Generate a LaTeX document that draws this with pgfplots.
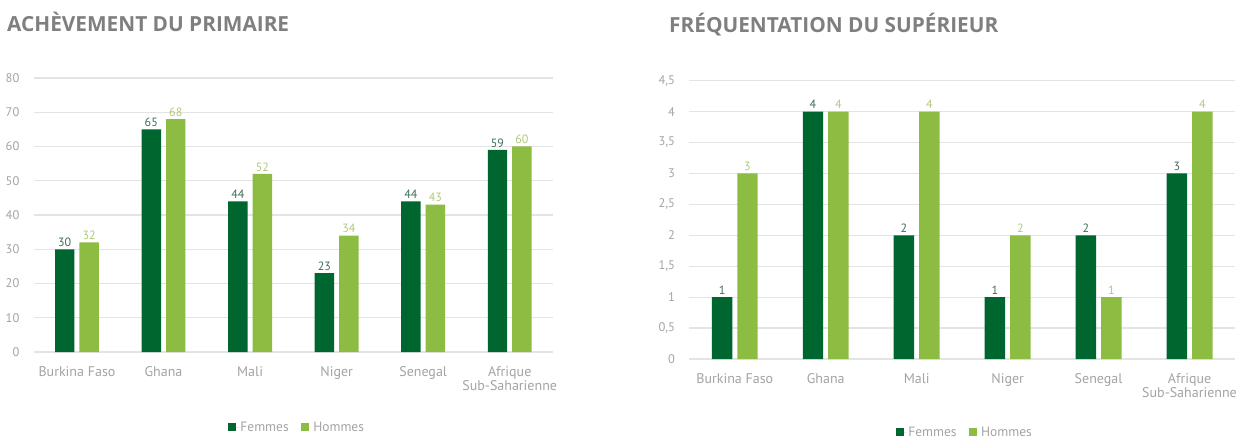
\documentclass[border=0pt]{standalone}
\usepackage{fontspec}
\setmainfont{PT Sans}
\newfontfamily\titlefont{Open Sans}
\usepackage{pgfplots}
\pgfplotsset{compat=1.18}

\definecolor{femmes}{HTML}{00662F}
\definecolor{hommes}{HTML}{8DBC43}
\definecolor{femlab}{HTML}{3E6B58}
\definecolor{homlab}{HTML}{B0C878}
\definecolor{tickgray}{HTML}{A3A3A3}
\definecolor{gridgray}{HTML}{E4E4E4}
\definecolor{titlegray}{HTML}{7F7F7F}

\pgfplotsset{
  barchart/.style={
    scale only axis,
    ybar=5pt, bar width=0.225,
    xmin=-0.5, xmax=5.5,
    xtick={0,...,5},
    xticklabels={Burkina Faso, Ghana, Mali, Niger, Senegal, {Afrique\\Sub-Saharienne}},
    xticklabel style={align=center, font=\fontsize{14}{14.5}\selectfont, text=tickgray, anchor=north, inner sep=0pt, yshift=-12pt},
    yticklabel style={font=\fontsize{12.5}{13}\selectfont, text=tickgray, anchor=east, inner sep=0pt, xshift=-12pt},
    /pgf/number format/assume math mode=true,
    /pgf/number format/use comma,
    axis x line=bottom, axis y line=left,
    axis line style={draw=none},
    tick style={draw=none},
    ymajorgrids,
    grid style={gridgray, line width=1.2pt},
    nodes near coords,
    nodes near coords style={font=\fontsize{12}{12.5}\selectfont, inner sep=2.5pt},
    legend columns=2,
    legend style={draw=none, fill=none, font=\fontsize{13.5}{14}\selectfont, text=tickgray,
      /tikz/every even column/.append style={column sep=10pt}},
  },
  sqlegend/.style={legend image code/.code={\fill[##1] (0pt,-4pt) rectangle (8pt,4pt); \path (0pt,0pt) -- (10.5pt,0pt);}},
  fem/.style={fill=femmes, draw=none, sqlegend,
    every node near coord/.append style={text=femlab}},
  hom/.style={fill=hommes, draw=none, sqlegend,
    every node near coord/.append style={text=homlab}},
}

\begin{document}
\begin{tikzpicture}
\useasboundingbox (0pt,0pt) rectangle (1236pt,442pt);

\node[anchor=base west, inner sep=0pt, text=titlegray, font=\titlefont\bfseries\fontsize{20.8}{21}\selectfont]
  at (7pt,410.3pt) {ACHÈVEMENT DU PRIMAIRE};
\node[anchor=base west, inner sep=0pt, text=titlegray, font=\titlefont\bfseries\fontsize{20.8}{21}\selectfont]
  at (669pt,409pt) {FRÉQUENTATION DU SUPÉRIEUR};

% achèvement du primaire
\begin{axis}[barchart,
  at={(33.7pt,90pt)}, anchor=south west,
  width=519.3pt, height=274pt,
  ymin=0, ymax=80, ytick={0,10,...,80},
  legend style={at={(0.507,-0.274)}, anchor=center}]
\addplot[fem] coordinates {(0,30) (1,65) (2,44) (3,23) (4,44) (5,59)};
\addplot[hom] coordinates {(0,32) (1,68) (2,52) (3,34) (4,43) (5,60)};
\legend{Femmes, Hommes}
\end{axis}

% fréquentation du supérieur
\begin{axis}[barchart,
  at={(689.3pt,83pt)}, anchor=south west,
  width=545.7pt, height=278.3pt,
  ymin=0, ymax=4.5, ytick={0,0.5,...,4.5},
  legend style={at={(0.505,-0.264)}, anchor=center}]
\addplot[fem] coordinates {(0,1) (1,4) (2,2) (3,1) (4,2) (5,3)};
\addplot[hom] coordinates {(0,3) (1,4) (2,4) (3,2) (4,1) (5,4)};
\legend{Femmes, Hommes}
\end{axis}
\end{tikzpicture}
\end{document}
